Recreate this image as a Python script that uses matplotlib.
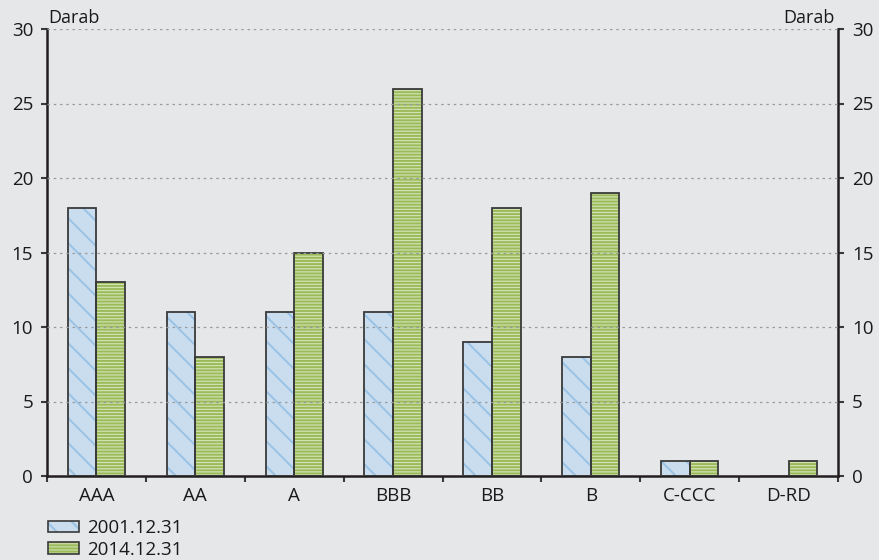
import matplotlib
matplotlib.use("Agg")
import matplotlib.pyplot as plt
import numpy as np
from matplotlib.patches import Patch

categories = ["AAA", "AA", "A", "BBB", "BB", "B", "C-CCC", "D-RD"]
series_2001 = [18, 11, 11, 11, 9, 8, 1, 0]
series_2014 = [13, 8, 15, 26, 18, 19, 1, 1]
labels = ["2001.12.31", "2014.12.31"]
y_ticks = [0, 5, 10, 15, 20, 25, 30]

DPI = 150
k = 100 / DPI  # sizes below are thought of as points at 100 dpi
plt.rcParams['font.family'] = ['Open Sans', 'DejaVu Sans']

bg = "#E6E7E9"
blue_fill, blue_hatch = "#CADDEF", "#9CC3E5"
green_fill, green_hatch = "#D3E2B6", "#9BBB59"
edge = "#3a3a3a"
txt = "#1a1a1a"
H_BLUE = "\\\\"
H_GREEN = "-" * 8
LW_BLUE = 1.5 * k
LW_GREEN = 1.4 * k

fig = plt.figure(figsize=(879 / DPI, 560 / DPI), dpi=DPI, facecolor=bg)
ax = fig.add_axes([47/879, 1-476/560, (838-47)/879, (476-29)/560])
ax.set_facecolor(bg)

x = np.arange(len(categories))
w = 0.29

def hatched(hlw, **kw):
    with plt.rc_context({'hatch.linewidth': hlw}):
        p = Patch(**kw)
    if hasattr(p, "set_hatch_linewidth"):
        p.set_hatch_linewidth(hlw)
    return p

def draw(xpos, vals, fill, hcol, hatch, hlw):
    with plt.rc_context({'hatch.linewidth': hlw}):
        bars = ax.bar(xpos, vals, w, color=fill, edgecolor=hcol, hatch=hatch, linewidth=0, zorder=2)
    for b in bars:
        if hasattr(b, "set_hatch_linewidth"):
            b.set_hatch_linewidth(hlw)
    ax.bar(xpos, vals, w, color="none", edgecolor=edge, linewidth=1.3 * k, zorder=3)

draw(x - w/2, series_2001, blue_fill, blue_hatch, H_BLUE, LW_BLUE)
draw(x + w/2, series_2014, green_fill, green_hatch, H_GREEN, LW_GREEN)

ax.set_xlim(-0.5, len(categories) - 0.5)
ax.set_ylim(0, 30)
ax.set_yticks(y_ticks)
for yv in y_ticks[1:]:
    ax.axhline(yv, color="#9A9A9A", linestyle=(0, (2, 3)), linewidth=0.9 * k, zorder=4)

ax.set_xticks(np.arange(len(categories) + 1) - 0.5, minor=False)
ax.set_xticklabels([])
ax.set_xticks(x, minor=True)
ax.set_xticklabels(categories, minor=True, fontsize=13.5 * k, color=txt)
ax.tick_params(axis="x", which="minor", length=0, pad=8 * k)
ax.tick_params(axis="x", which="major", length=4 * k, width=1.5 * k, direction="out", color=edge)
ax.tick_params(axis="y", length=4 * k, width=1.5 * k, direction="out", color=edge, labelsize=13.5 * k,
               labelcolor=txt, pad=6 * k, right=True, labelright=True)

for s in ["left", "right", "bottom"]:
    ax.spines[s].set_linewidth(1.8 * k)
    ax.spines[s].set_color("#231f20")
ax.spines["top"].set_visible(False)

ax.text(0.002, 1.004, "Darab", transform=ax.transAxes, ha="left", va="bottom", fontsize=13 * k, color=txt)
ax.text(0.996, 1.004, "Darab", transform=ax.transAxes, ha="right", va="bottom", fontsize=13 * k, color=txt)

hb = (hatched(LW_BLUE, facecolor=blue_fill, edgecolor=blue_hatch, hatch=H_BLUE, linewidth=0),
      Patch(facecolor="none", edgecolor=edge, linewidth=1.2 * k))
hg = (hatched(LW_GREEN, facecolor=green_fill, edgecolor=green_hatch, hatch=H_GREEN, linewidth=0),
      Patch(facecolor="none", edgecolor=edge, linewidth=1.2 * k))

leg = fig.legend([hb, hg], labels, loc="upper left", bbox_to_anchor=(48/879, 1-519/560),
                 frameon=False, fontsize=13.5 * k, handlelength=1.65, handleheight=0.55,
                 labelspacing=0.2, handletextpad=0.45, borderpad=0, borderaxespad=0)
for t in leg.get_texts():
    t.set_color(txt)

fig.savefig("out.png", dpi=DPI, facecolor=bg)
